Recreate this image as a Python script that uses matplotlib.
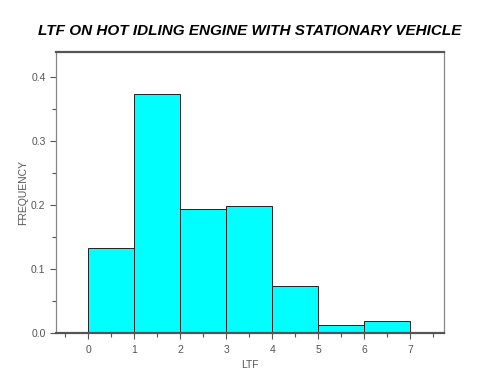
import matplotlib
matplotlib.use("Agg")
import matplotlib.pyplot as plt
from matplotlib.ticker import MultipleLocator

plt.rcParams["font.family"] = ["Liberation Sans", "DejaVu Sans"]

bin_edges = [0, 1, 2, 3, 4, 5, 6, 7]
frequency = [0.132, 0.373, 0.193, 0.198, 0.073, 0.012, 0.018]

fig = plt.figure(figsize=(5.0, 3.74), dpi=100)
ax = fig.add_axes([0.112, 0.11, 0.776, 0.751])

ax.bar(bin_edges[:-1], frequency, width=1, align="edge",
       color="#00ffff", edgecolor="#222222", linewidth=0.7)

ax.set_xlim(-0.7, 7.73)
ax.set_ylim(0, 0.4386)
ax.xaxis.set_major_locator(MultipleLocator(1))
ax.xaxis.set_minor_locator(MultipleLocator(0.5))
ax.yaxis.set_major_locator(MultipleLocator(0.1))
ax.yaxis.set_minor_locator(MultipleLocator(0.05))
ax.yaxis.set_major_formatter(plt.FormatStrFormatter("%.1f"))

ax.tick_params(which="both", direction="out", colors="#555555",
               labelcolor="#555555", labelsize=7.5, width=0.8)
ax.tick_params(which="major", length=4)
ax.tick_params(which="minor", length=3)
ax.tick_params(axis="x", pad=5)

for side in ["top", "bottom"]:
    ax.spines[side].set_color("#555555")
    ax.spines[side].set_linewidth(1.6)
for side in ["left", "right"]:
    ax.spines[side].set_color("#888888")
    ax.spines[side].set_linewidth(0.9)

ax.set_xlabel("LTF", fontsize=7.5, color="#555555", labelpad=3)
ax.set_ylabel("FREQUENCY", fontsize=7.5, color="#555555", labelpad=2)

fig.text(0.5, 0.918, "LTF ON HOT IDLING ENGINE WITH STATIONARY VEHICLE",
         ha="center", va="center", fontsize=11, fontweight="bold",
         fontstyle="italic")

fig.savefig("out.png", dpi=100)
